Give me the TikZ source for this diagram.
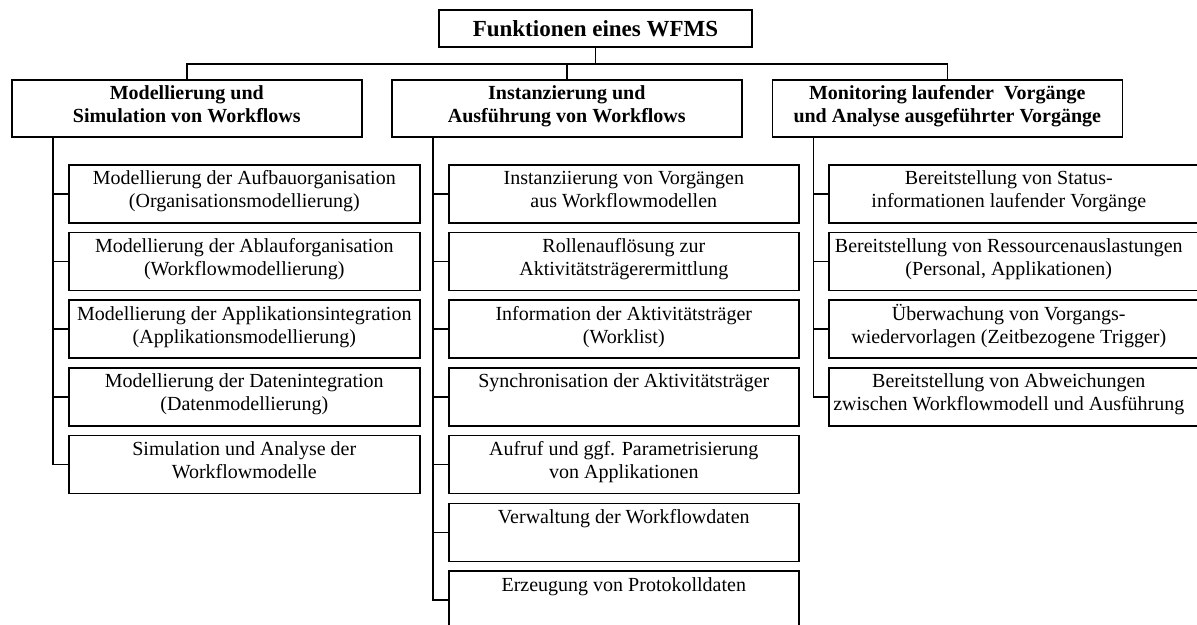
\documentclass[tikz,border=0pt]{standalone}
\usepackage{fontspec}
\setmainfont{Liberation Serif}
\usepackage{tikz}
\usetikzlibrary{positioning}

\newcommand{\cellbox}[3]{\parbox[c][#2][t]{#1}{\centering\rule{0pt}{20pt}#3}}

\begin{document}
\begin{tikzpicture}[x=1pt,y=-1pt,line width=1.6pt,
  top/.style={draw,minimum width=313pt,minimum height=37pt,inner sep=0pt,font=\bfseries\fontsize{23}{26}\selectfont},
  head/.style={draw,inner sep=0pt,anchor=north west,font=\bfseries\fontsize{20}{23}\selectfont},
  item/.style={draw,inner sep=0pt,anchor=north west,font=\fontsize{20}{23}\selectfont}]
\useasboundingbox (0,0) rectangle (1197,624);
\clip (0,0) rectangle (1197,624);
\node [top] (wfms) at (595.5,28.5) {Funktionen eines WFMS};
\node [head] (mod) at (11,79) {\cellbox{350pt}{57pt}{Modellierung und\\Simulation von Workflows}};
\node [head] (ins) at (391,79) {\cellbox{350pt}{57pt}{Instanzierung und\\Ausführung von Workflows}};
\node [head] (mon) at (771.5,79) {\cellbox{350pt}{57pt}{Monitoring laufender\ \ Vorgänge\\und Analyse ausgeführter Vorgänge}};
\coordinate (bar) at (0,64);
\draw (wfms.south) -- (bar -| wfms.south);
\draw (mod.north) |- (bar -| ins.north) -| (mon.north);
\draw (ins.north) -- (bar -| ins.north);
\foreach \t [count=\i] in {{Modellierung der Aufbauorganisation\\(Organisationsmodellierung)},
    {Modellierung der Ablauforganisation\\(Workflowmodellierung)},
    {Modellierung der Applikationsintegration\\(Applikationsmodellierung)},
    {Modellierung der Datenintegration\\(Datenmodellierung)},
    {Simulation und Analyse der\\Workflowmodelle}}{
  \node [item] (m\i) at (68,{164+67.7*(\i-1)}) {\cellbox{351pt}{58pt}{\t}};
  \draw ([xshift=42pt]mod.south west) |- (m\i.west);
}
\foreach \t [count=\i] in {{Instanziierung von Vorgängen\\aus Workflowmodellen},
    {Rollenauflösung zur\\Aktivitätsträgerermittlung},
    {Information der Aktivitätsträger\\(Worklist)},
    {Synchronisation der Aktivitätsträger},
    {Aufruf und ggf. Parametrisierung\\von Applikationen},
    {Verwaltung der Workflowdaten},
    {Erzeugung von Protokolldaten}}{
  \node [item] (a\i) at (448,{164+67.7*(\i-1)}) {\cellbox{350pt}{58pt}{\t}};
  \draw ([xshift=42pt]ins.south west) |- (a\i.west);
}
\foreach \t [count=\i] in {{Bereitstellung von Status-\\informationen laufender Vorgänge},
    {Bereitstellung von Ressourcenauslastungen\\(Personal, Applikationen)},
    {Überwachung von Vorgangs-\\wiedervorlagen (Zeitbezogene Trigger)},
    {Bereitstellung von Abweichungen\\zwischen Workflowmodell und Ausführung}}{
  \node [item] (b\i) at (828,{164+67.7*(\i-1)}) {\cellbox{360pt}{58pt}{\t}\kern14pt};
  \draw ([xshift=42pt]mon.south west) |- (b\i.west);
}
\end{tikzpicture}
\end{document}
